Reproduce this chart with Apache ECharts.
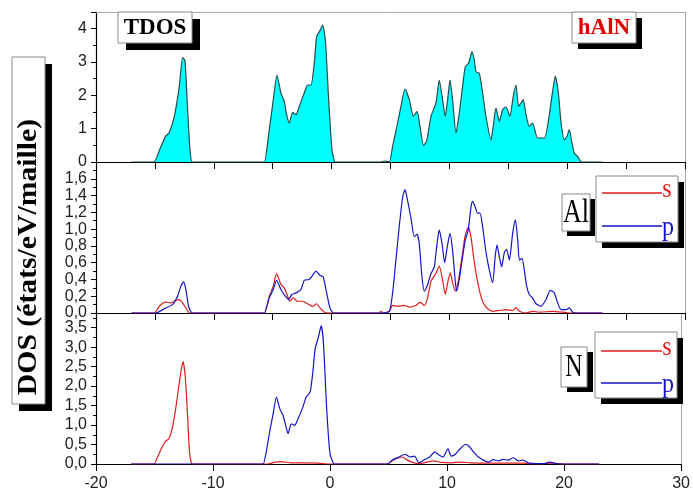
<!DOCTYPE html>
<html>
<head>
<meta charset="utf-8">
<script src="https://cdn.jsdelivr.net/npm/echarts@6/dist/echarts.min.js"></script>
<style>
  html, body { margin: 0; padding: 0; background: #fff; }
  #chart { width: 693px; height: 495px; }
</style>
</head>
<body>
<div id="chart"></div>
<script>
// Energy axis (eV) and tick settings
const energyMin = -20;
const energyMax = 30;
const energyTicks = [-20, -10, 0, 10, 20, 30];

// Total DOS of hAlN: [energy (eV), states/eV/cell]
const tdos = [[-17,0],[-15.1,0],[-14.6,0.37],[-14.1,0.77],[-13.8,0.87],[-13.35,1.37],[-12.93,2.26],[-12.65,3.13],[-12.45,3.05],[-12.22,1.55],[-12.02,0.37],[-11.85,0],[-11.6,0],
  [-5.9,0],[-5.71,0],[-5.29,0.97],[-4.95,1.87],[-4.64,2.61],[-4.30,2.07],[-4.02,1.82],[-3.82,1.42],[-3.59,1.17],[-3.31,1.49],[-3.02,1.42],[-2.74,1.67],[-2.32,2.07],[-2.04,2.31],[-1.75,2.31],[-1.47,2.96],[-1.27,3.76],[-0.99,3.94],[-0.76,4.11],[-0.53,3.66],[-0.25,1.87],[0.03,0.37],[0.31,0],[0.6,0],
  [4.2,0],[4.5,0.03],[4.9,0],[5.18,0.47],[5.6,1.17],[5.89,1.67],[6.23,2.19],[6.6,1.87],[6.94,1.37],[7.25,1.52],[7.5,1.07],[7.81,0.5],[8.06,0.62],[8.44,1.37],[8.86,1.77],[9.14,2.46],[9.42,1.87],[9.65,1.37],[9.85,1.87],[10.05,2.46],[10.27,1.87],[10.56,0.87],[10.84,1.47],[11.12,2.26],[11.35,2.86],[11.63,2.96],[11.92,3.31],[12.11,3.06],[12.26,2.71],[12.54,2.66],[12.82,2.07],[13.1,1.37],[13.53,0.67],[13.72,1.07],[13.95,1.62],[14.24,1.22],[14.52,1.57],[14.8,1.65],[15.14,1.37],[15.42,1.97],[15.65,2.31],[15.87,1.67],[16.08,1.77],[16.27,1.87],[16.5,1.42],[16.78,1.07],[17.06,1.17],[17.49,0.72],[18.06,0.72],[18.42,1.27],[18.76,2.11],[18.99,2.58],[19.25,2.07],[19.48,1.17],[19.75,0.67],[19.98,0.77],[20.18,0.97],[20.38,0.62],[20.6,0.27],[20.88,0.17],[21.22,0],[21.5,0],[23,0]];

// Al partial DOS, s and p
const alS = [[-17,0],[-15.06,0],[-14.63,0.08],[-14.14,0.13],[-13.63,0.12],[-13.21,0.15],[-12.93,0.16],[-12.65,0.12],[-12.37,0.06],[-12.08,0],[-11.8,0],
  [-5.9,0],[-5.71,0],[-5.29,0.2],[-4.95,0.32],[-4.67,0.47],[-4.30,0.34],[-4.02,0.30],[-3.73,0.2],[-3.54,0.14],[-3.26,0.18],[-2.89,0.14],[-2.46,0.14],[-2.04,0.11],[-1.61,0.08],[-1.27,0.11],[-0.99,0.06],[-0.62,0.01],[-0.2,0],
  [4.0,0],[4.19,0.02],[4.4,0],[4.9,0.02],[5.18,0.09],[5.6,0.08],[6.17,0.09],[6.6,0.07],[7.16,0.09],[7.53,0.13],[7.87,0.09],[8.15,0.18],[8.44,0.38],[8.86,0.47],[9.14,0.56],[9.37,0.43],[9.65,0.22],[9.85,0.36],[10.08,0.48],[10.27,0.36],[10.5,0.26],[10.78,0.40],[11.07,0.67],[11.35,0.93],[11.6,1.02],[11.83,0.91],[12.05,0.67],[12.32,0.43],[12.6,0.24],[12.88,0.12],[13.25,0.05],[13.67,0.02],[14.24,0.03],[14.8,0.04],[15.37,0.03],[15.65,0.06],[15.94,0.02],[16.5,0],[17.06,0.02],[17.6,0.01],[18.76,0.02],[19.6,0.01],[20.2,0],[23,0]];

const alP = [[-17,0],[-14.93,0],[-14.08,0.06],[-13.51,0.1],[-13.08,0.2],[-12.79,0.32],[-12.56,0.37],[-12.37,0.28],[-12.14,0.08],[-11.85,0],[-11.6,0],
  [-5.9,0],[-5.71,0],[-5.29,0.18],[-4.95,0.28],[-4.67,0.39],[-4.30,0.28],[-3.93,0.2],[-3.65,0.16],[-3.37,0.22],[-3.02,0.24],[-2.6,0.28],[-2.32,0.39],[-1.89,0.40],[-1.61,0.45],[-1.33,0.50],[-0.99,0.45],[-0.71,0.43],[-0.42,0.24],[-0.14,0.06],[0.14,0],[0.4,0],
  [4.33,0],[4.9,0.02],[5.18,0.24],[5.46,0.63],[5.74,1.03],[6.03,1.38],[6.23,1.47],[6.45,1.34],[6.74,1.13],[7.02,0.91],[7.25,0.94],[7.44,0.83],[7.67,0.43],[7.87,0.26],[8.15,0.34],[8.44,0.47],[8.72,0.55],[8.92,0.79],[9.14,0.99],[9.37,0.83],[9.6,0.6],[9.82,0.79],[10.05,0.95],[10.27,0.75],[10.47,0.42],[10.61,0.26],[10.84,0.40],[11.12,0.67],[11.35,0.87],[11.6,0.99],[11.83,1.26],[11.97,1.33],[12.2,1.26],[12.4,1.19],[12.6,1.19],[12.82,1.03],[13.1,0.73],[13.39,0.51],[13.67,0.36],[13.9,0.69],[14.04,0.81],[14.24,0.67],[14.44,0.55],[14.66,0.72],[14.86,0.76],[15.09,0.63],[15.37,0.95],[15.6,1.11],[15.8,0.87],[15.94,0.63],[16.16,0.65],[16.36,0.51],[16.56,0.32],[16.78,0.22],[17.06,0.18],[17.35,0.11],[17.77,0.08],[18.2,0.16],[18.56,0.27],[18.9,0.24],[19.19,0.12],[19.48,0.04],[19.9,0.04],[20.18,0.06],[20.47,0.01],[20.75,0],[23,0]];

// N partial DOS, s and p
const nS = [[-17,0],[-15.06,0],[-14.68,0.22],[-14.34,0.44],[-14.06,0.58],[-13.78,0.65],[-13.49,0.91],[-13.21,1.38],[-12.93,1.98],[-12.7,2.45],[-12.56,2.63],[-12.37,2.23],[-12.17,1.21],[-12.02,0.35],[-11.85,0.02],[-11.7,0],
  [-5.3,0],[-4.7,0.05],[-4.16,0.06],[-3.3,0.03],[-2.4,0.03],[-1.0,0.02],[-0.2,0],
  [4.9,0],[5.46,0.11],[6.17,0.18],[6.6,0.1],[7.0,0.05],[7.59,0.01],[8.27,0.05],[8.86,0.08],[9.5,0.04],[10.4,0.03],[11.12,0.05],[12.0,0.03],[13.5,0.02],[15.0,0.02],[16.5,0.02],[17.6,0],[19.0,0.02],[20.0,0],[23,0]];

const nP = [[-17,0],[-5.9,0],[-5.71,0],[-5.43,0.35],[-5.14,0.86],[-4.86,1.29],[-4.58,1.72],[-4.3,1.42],[-4.02,1.25],[-3.82,1.03],[-3.59,0.78],[-3.31,1.03],[-3.02,0.99],[-2.74,1.16],[-2.32,1.46],[-2.04,1.72],[-1.7,1.85],[-1.47,2.36],[-1.27,2.96],[-0.99,3.26],[-0.76,3.55],[-0.56,3.09],[-0.28,1.38],[0.0,0.26],[0.37,0],[0.6,0],
  [4.9,0],[5.32,0.1],[5.89,0.18],[6.4,0.25],[6.82,0.18],[7.22,0.2],[7.59,0.03],[8.01,0.1],[8.52,0.18],[8.95,0.31],[9.23,0.25],[9.65,0.18],[10.08,0.39],[10.36,0.2],[10.7,0.25],[11.12,0.39],[11.55,0.5],[11.83,0.47],[12.26,0.31],[12.68,0.18],[13.1,0.1],[13.53,0.05],[13.95,0.11],[14.38,0.08],[14.8,0.12],[15.23,0.1],[15.65,0.16],[16.08,0.08],[16.5,0.1],[16.93,0.03],[17.64,0.01],[18.3,0.01],[18.76,0.05],[19.3,0.01],[20.0,0],[23,0]];

// Y-axis ranges per panel: [min, max, label interval]
const tdosRange = [0, 4.5, 1];
const alRange = [0, 1.8, 0.2];
const nRange = [0, 3.875, 0.5];

const RED = '#e01e1e';
const BLUE = '#1515c8';
const LABEL_FONT = '"Liberation Sans", Arial, sans-serif';
const SERIF = '"Liberation Serif", "Times New Roman", serif';

const chart = echarts.init(document.getElementById('chart'), null, { renderer: 'canvas' });

const grids = [
  { left: 96, right: 8, top: 12, height: 150 },
  { left: 96, right: 8, top: 162, height: 151 },
  { left: 96, right: 8, top: 313, height: 151 }
];

function bottomAxis(gridIndex, showLabels) {
  return {
    type: 'value', gridIndex, min: energyMin, max: energyMax,
    interval: showLabels ? 10 : 5,
    axisLine: { show: true, onZero: false, lineStyle: { color: '#000', width: 1.2 } },
    axisTick: { show: true, inside: false, length: 7, lineStyle: { color: '#000' } },
    axisLabel: {
      show: showLabels, margin: 12, fontSize: 16, color: '#222', fontFamily: LABEL_FONT,
      formatter: v => energyTicks.includes(v) ? String(v) : ''
    },
    splitLine: { show: false }
  };
}

function leftAxis(gridIndex, range, digits, minorSplit) {
  const [mn, mx, step] = range;
  return {
    type: 'value', gridIndex, min: mn, max: mx, interval: step,
    axisLine: { show: true, onZero: false, lineStyle: { color: '#000', width: 1.2 } },
    axisTick: { show: true, inside: false, length: 5, lineStyle: { color: '#000' } },
    minorTick: { show: true, splitNumber: minorSplit, length: 3, lineStyle: { color: '#000' } },
    axisLabel: {
      margin: 9, fontSize: 16, color: '#222', fontFamily: LABEL_FONT, showMaxLabel: false,
      formatter: v => {
        const k = Math.round(v / step);
        if (Math.abs(k * step - v) > 1e-6) return '';
        return v.toFixed(digits).replace('.', ',');
      }
    },
    splitLine: { show: false }
  };
}

function frameAxis(gridIndex, range) {
  return {
    type: 'value', gridIndex, position: 'right', min: range[0], max: range[1],
    axisLine: { show: true, onZero: false, lineStyle: { color: '#a8a8a8', width: 1 } },
    axisTick: { show: false }, axisLabel: { show: false }, splitLine: { show: false }
  };
}

function curve(name, data, color, xi, yi, extra) {
  return Object.assign({
    name, type: 'line', xAxisIndex: xi, yAxisIndex: yi, data,
    showSymbol: false, smooth: 0.2, lineStyle: { color, width: 1.2 },
    itemStyle: { color }, animation: false
  }, extra || {});
}

// Boxed label with a solid drop shadow
function shadowBox(x, y, w, h, dx, dy) {
  return [
    { type: 'rect', shape: { x: x + dx, y: y + dy, width: w, height: h }, style: { fill: '#000' }, z: 20 },
    { type: 'rect', shape: { x, y, width: w, height: h }, style: { fill: '#fff', stroke: '#8a8a8a', lineWidth: 1 }, z: 21 }
  ];
}
function label(text, x, y, opts) {
  return {
    type: 'text', x, y, z: 22,
    rotation: opts.rotation || 0, scaleX: opts.scaleX || 1, scaleY: opts.scaleY || 1,
    style: {
      text, fill: opts.color || '#000', fontFamily: SERIF,
      fontSize: opts.size, fontWeight: opts.bold ? 'bold' : 'normal',
      align: 'center', verticalAlign: 'middle'
    }
  };
}
function legendLine(x1, x2, y, color) {
  return { type: 'line', shape: { x1, y1: y, x2, y2: y }, style: { stroke: color, lineWidth: 1.3 }, z: 22 };
}

const graphic = [].concat(
  // y-axis title
  shadowBox(12, 57, 33, 347, 7, 7),
  [label('DOS (états/eV/maille)', 29, 257, { size: 27, bold: true, rotation: Math.PI / 2, scaleX: 1.1 })],
  // panel titles
  shadowBox(118, 12, 74, 31, 8, 7),
  [label('TDOS', 155, 28, { size: 23, bold: true })],
  shadowBox(572, 12, 64, 31, 6, 6),
  [label('hAlN', 604, 28, { size: 23, bold: true, color: '#e00000' })],
  // Al panel tag and key
  shadowBox(562, 194, 28, 37, 5, 5),
  [label('Al', 576, 213, { size: 26, scaleY: 1.3 })],
  shadowBox(596, 176, 82, 66, 6, 6),
  [legendLine(602, 662, 193, RED), label('s', 667, 190, { size: 24, scaleY: 1.15, color: RED }),
   legendLine(602, 662, 226, BLUE), label('p', 668, 228, { size: 24, scaleY: 1.15, color: BLUE })],
  // N panel tag and key
  shadowBox(561, 347, 26, 40, 6, 5),
  [label('N', 574, 367, { size: 24, scaleY: 1.35 })],
  shadowBox(595, 332, 82, 66, 6, 6),
  [legendLine(601, 662, 351, RED), label('s', 667, 348, { size: 24, scaleY: 1.15, color: RED }),
   legendLine(601, 662, 383, BLUE), label('p', 668, 385, { size: 24, scaleY: 1.15, color: BLUE })]
);

chart.setOption({
  backgroundColor: '#fff',
  animation: false,
  grid: grids,
  xAxis: [
    bottomAxis(0, false),
    bottomAxis(1, false),
    bottomAxis(2, true),
    { type: 'value', gridIndex: 0, position: 'top', min: energyMin, max: energyMax,
      axisLine: { show: true, onZero: false, lineStyle: { color: '#a8a8a8' } },
      axisTick: { show: false }, axisLabel: { show: false }, splitLine: { show: false } }
  ],
  yAxis: [
    leftAxis(0, tdosRange, 0, 2),
    leftAxis(1, alRange, 1, 2),
    leftAxis(2, nRange, 1, 2),
    frameAxis(0, tdosRange),
    frameAxis(1, alRange),
    frameAxis(2, nRange)
  ],
  series: [
    curve('TDOS', tdos, '#2a4a4a', 0, 0, { areaStyle: { color: '#00ffff', opacity: 1 } }),
    curve('s', alS, RED, 1, 1),
    curve('p', alP, BLUE, 1, 1),
    curve('s', nS, RED, 2, 2),
    curve('p', nP, BLUE, 2, 2)
  ],
  graphic
});
</script>
</body>
</html>
